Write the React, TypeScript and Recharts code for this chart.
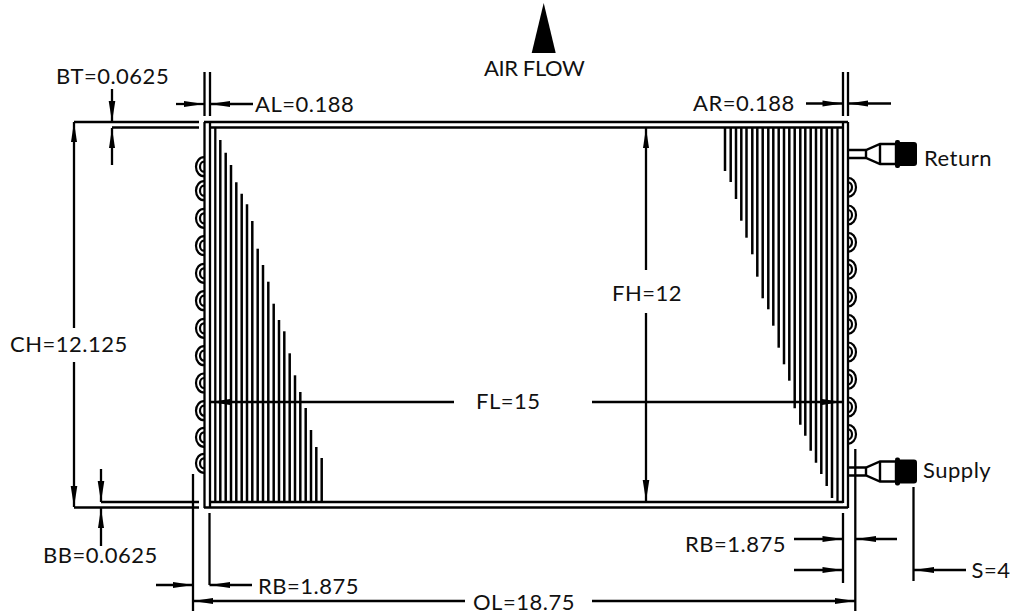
import { ReferenceLine, Scatter, ScatterChart, XAxis, YAxis } from 'recharts'

const W = 1010
const H = 615
const FONT = 'Lato, Carlito, sans-serif'

// all drawing values are in the sheet's own units (x grows right, y grows down)
type Seg = [number, number, number, number]

const frameLines: Seg[] = [
  [204, 122, 848, 122],
  [210, 127.5, 843, 127.5],
  [210, 502, 843, 502],
  [204, 507.5, 848, 507.5],
  [204.5, 122, 204.5, 508],
  [210, 122, 210, 508],
  [215.3, 127, 215.3, 502],
  [843, 122, 843, 503],
  [848, 122, 848, 508],
  [837.5, 127, 837.5, 502],
]

const leftFinX = [
  220.3, 225.7, 231, 236.3, 241.7, 247, 252.3, 257.7, 263, 268.3, 273.7, 279, 284.3, 289.7, 295,
  300.3, 305.7, 311, 316.3, 321.7,
]
const leftFinTop = [
  140, 152.7, 165, 182.3, 193.7, 204.3, 221, 248.7, 265, 281.7, 303.7, 320, 331.3, 353.3, 375.3,
  392, 408, 430, 447, 458,
]

const rightFinX = [
  725, 730.7, 736, 741.3, 746.5, 752.3, 757.3, 762.7, 768.3, 773.3, 778.7, 784, 789.3, 794.7, 800.3,
  805.3, 810.7, 816, 821.3, 826.7, 832,
]
const rightFinBottom = [
  171, 182, 199, 220.7, 237.7, 254.3, 276.7, 298.3, 309.3, 325.7, 347.7, 364.3, 380.7, 408.3, 424.7,
  435.7, 450.7, 462.7, 474, 486, 498,
]

const leftBendY = [166.7, 190.7, 218.3, 245.7, 273.3, 300.7, 328.3, 355.7, 383, 410.7, 437.3, 463.3]
const rightBendY = [187.3, 215, 242.3, 269.3, 297, 324.3, 352, 379.3, 407, 434.3]

const dimensionLines: Seg[] = [
  // AL / AR
  [204.5, 72, 204.5, 116],
  [210, 72, 210, 116],
  [176, 104, 204, 104],
  [210, 104, 253, 104],
  [843, 72, 843, 116],
  [848, 72, 848, 116],
  [806, 103.5, 843, 103.5],
  [848, 103.5, 891, 103.5],
  // BT
  [74, 122, 199, 122],
  [112, 127.5, 199, 127.5],
  [112, 89, 112, 122],
  [112, 128, 112, 165],
  // CH
  [74, 122, 74, 328],
  [74, 362, 74, 507],
  // BB
  [74, 507.5, 199, 507.5],
  [101, 502, 199, 502],
  [101, 469, 101, 502],
  [101, 508, 101, 546],
  // RB left
  [193, 474, 193, 611],
  [156, 585, 193, 585],
  [209.5, 513, 209.5, 585],
  [209.5, 585, 252, 585],
  // OL
  [193, 601, 465, 601],
  [592, 601, 855, 601],
  [855.3, 449, 855.3, 611],
  // RB right
  [843, 513, 843, 583],
  [794, 539, 843, 539],
  [794, 570, 843, 570],
  [855.3, 539, 897, 539],
  // S
  [913.5, 487, 913.5, 581],
  [913.5, 570, 966, 570],
  // FH / FL
  [646, 128, 646, 270],
  [646, 313, 646, 501],
  [210, 402, 454, 402],
  [592, 402, 842, 402],
]

const arrowsRight = [
  { x: 204, y: 104 },
  { x: 842.5, y: 103.5 },
  { x: 193, y: 585 },
  { x: 855, y: 601 },
  { x: 842.5, y: 539 },
  { x: 842.5, y: 570 },
  { x: 842, y: 402 },
]
const arrowsLeft = [
  { x: 210, y: 104 },
  { x: 848, y: 103.5 },
  { x: 210, y: 585 },
  { x: 193, y: 601 },
  { x: 856, y: 539 },
  { x: 914, y: 570 },
  { x: 210, y: 402 },
]
const arrowsUp = [
  { x: 74, y: 122 },
  { x: 112, y: 128 },
  { x: 101, y: 508 },
  { x: 646, y: 128 },
]
const arrowsDown = [
  { x: 74, y: 507 },
  { x: 112, y: 122 },
  { x: 101, y: 502 },
  { x: 646, y: 501 },
]

const connectors = [
  { x: 848, y: 154 },
  { x: 848, y: 471.5 },
]

const airFlowTip = [{ x: 543.7, y: 53 }]

const labels = [
  { x: 56, y: 84, text: 'BT=0.0625' },
  { x: 255, y: 111.7, text: 'AL=0.188' },
  { x: 693, y: 110.5, text: 'AR=0.188' },
  { x: 484, y: 76, text: 'AIR FLOW' },
  { x: 924, y: 166, text: 'Return' },
  { x: 923, y: 478, text: 'Supply' },
  { x: 612, y: 301, text: 'FH=12' },
  { x: 10, y: 352, text: 'CH=12.125' },
  { x: 476, y: 409, text: 'FL=15' },
  { x: 43, y: 562.7, text: 'BB=0.0625' },
  { x: 258, y: 594, text: 'RB=1.875' },
  { x: 685, y: 551.7, text: 'RB=1.875' },
  { x: 971.5, y: 577.7, text: 'S=4' },
  { x: 473, y: 610, text: 'OL=18.75' },
]

const Seg = (s: Seg, key: string, width = 2.3) => (
  <ReferenceLine
    key={key}
    segment={[
      { x: s[0], y: s[1] },
      { x: s[2], y: s[3] },
    ]}
    stroke="#000"
    strokeWidth={width}
  />
)

// long thin head, the point sits on the data point
const head = (dx: number, dy: number, len = 20, half = 3) => (p: any) => {
  const bx = p.cx - dx * len
  const by = p.cy - dy * len
  const pts = `${p.cx},${p.cy} ${bx - dy * half},${by - dx * half} ${bx + dy * half},${by + dx * half}`
  return <polygon points={pts} fill="#000" />
}

const bend = (side: number) => (p: any) => {
  const sweep = side > 0 ? 1 : 0
  const arc = (rx: number, ry: number) =>
    `M${p.cx},${p.cy - ry}A${rx},${ry} 0 0 ${sweep} ${p.cx},${p.cy + ry}`
  return (
    <g fill="none" stroke="#000" strokeWidth={2.2}>
      <path d={arc(8, 9.5)} />
      <path d={arc(4, 5)} />
    </g>
  )
}

const Connector = (p: any) => {
  const { cx, cy } = p
  const outline = `M${cx},${cy - 4}H${cx + 18}L${cx + 32},${cy - 10}H${cx + 48}V${cy + 10}H${cx + 32}L${cx + 18},${cy + 4}H${cx}`
  return (
    <g>
      <path d={outline} fill="none" stroke="#000" strokeWidth={2.4} />
      <line x1={cx + 18} y1={cy - 4} x2={cx + 18} y2={cy + 4} stroke="#000" strokeWidth={2.4} />
      <line x1={cx + 32} y1={cy - 10} x2={cx + 32} y2={cy + 10} stroke="#000" strokeWidth={2.4} />
      <rect x={cx + 47} y={cy - 12} width={22} height={24} rx={3} fill="#000" />
      <rect x={cx + 47} y={cy - 14} width={5} height={28} rx={2} fill="#000" />
    </g>
  )
}

const AirFlow = (p: any) => (
  <polygon points={`${p.cx},${p.cy - 50} ${p.cx - 12},${p.cy} ${p.cx + 12},${p.cy}`} fill="#000" />
)

const Label = (p: any) => (
  <text
    x={p.cx}
    y={p.cy}
    fontFamily={FONT}
    fontSize={22}
    letterSpacing={p.payload.text === 'AIR FLOW' ? -0.4 : 0.5}
    fill="#111"
  >
    {p.payload.text}
  </text>
)

export default function App() {
  return (
    <div style={{ position: 'absolute', left: 0, top: 0, width: W, height: H, background: '#fff' }}>
      <ScatterChart width={W} height={H} margin={{ top: 0, right: 0, bottom: 0, left: 0 }}>
        <XAxis type="number" dataKey="x" domain={[0, W]} hide />
        <YAxis type="number" dataKey="y" domain={[0, H]} reversed hide />

        {frameLines.map((s, i) => Seg(s, `frame${i}`))}
        {leftFinX.map((x, i) => Seg([x, leftFinTop[i], x, 502], `lf${i}`, 2.5))}
        {rightFinX.map((x, i) => Seg([x, 127, x, rightFinBottom[i]], `rf${i}`, 2.5))}
        {dimensionLines.map((s, i) => Seg(s, `dim${i}`))}

        <Scatter data={leftBendY.map((y) => ({ x: 204, y }))} shape={bend(-1)} isAnimationActive={false} />
        <Scatter data={rightBendY.map((y) => ({ x: 848, y }))} shape={bend(1)} isAnimationActive={false} />
        <Scatter data={arrowsRight} shape={head(1, 0)} isAnimationActive={false} />
        <Scatter data={arrowsLeft} shape={head(-1, 0)} isAnimationActive={false} />
        <Scatter data={arrowsUp} shape={head(0, -1)} isAnimationActive={false} />
        <Scatter data={arrowsDown} shape={head(0, 1, 21, 3.3)} isAnimationActive={false} />
        <Scatter data={connectors} shape={Connector} isAnimationActive={false} />
        <Scatter data={airFlowTip} shape={AirFlow} isAnimationActive={false} />
        <Scatter data={labels} shape={Label} isAnimationActive={false} />
      </ScatterChart>
    </div>
  )
}
